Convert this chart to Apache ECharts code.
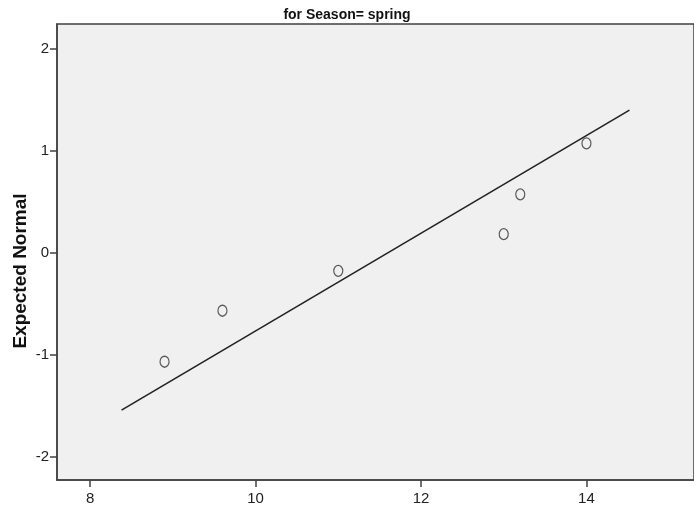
<!DOCTYPE html>
<html>
<head>
<meta charset="utf-8">
<script src="https://cdn.jsdelivr.net/npm/echarts@6/dist/echarts.min.js"></script>
<style>
  html, body { margin: 0; padding: 0; background: #ffffff; }
  #chart { width: 694px; height: 512px; }
</style>
</head>
<body>
<div id="chart"></div>
<script>
// Observed values (x) and their expected normal scores (y)
var observedValues = [8.9, 9.6, 11.0, 13.0, 13.2, 14.0];
var expectedNormal = [-1.07, -0.57, -0.18, 0.18, 0.57, 1.07];

// Reference line end points
var lineX = [8.38, 14.52];
var lineY = [-1.545, 1.396];

// Tick labels
var xTicks = [8, 10, 12, 14];
var yTicks = [-2, -1, 0, 1, 2];

var pointData = observedValues.map(function (v, i) { return [v, expectedNormal[i]]; });
var lineData = lineX.map(function (v, i) { return [v, lineY[i]]; });

var axisColor = '#404040';
var labelFont = { fontFamily: 'Liberation Sans Narrow, Arial Narrow, Liberation Sans, sans-serif', fontSize: 15, color: '#222' };

var chart = echarts.init(document.getElementById('chart'), null, { renderer: 'canvas' });
chart.setOption({
  animation: false,
  backgroundColor: '#ffffff',
  title: {
    text: 'for Season= spring',
    left: 'center',
    top: 3,
    textStyle: {
      fontFamily: 'Liberation Sans Narrow, Arial Narrow, Liberation Sans, sans-serif',
      fontSize: 14,
      fontWeight: 'bold',
      color: '#111'
    }
  },
  graphic: [{
    type: 'text',
    x: 21,
    y: 271,
    rotation: Math.PI / 2,
    style: {
      text: 'Expected Normal',
      font: 'bold 19px "Liberation Sans", Arial, sans-serif',
      fill: '#111',
      align: 'center',
      verticalAlign: 'middle'
    }
  }],
  grid: {
    left: 57,
    right: -2,
    top: 24,
    bottom: 32,
    show: true,
    backgroundColor: '#f0f0f0',
    borderColor: axisColor,
    borderWidth: 1.5
  },
  xAxis: {
    type: 'value',
    min: 7.6,
    max: 15.3,
    splitLine: { show: false },
    axisLine: { show: true, onZero: false, lineStyle: { color: axisColor, width: 1.5 } },
    axisTick: { show: true, customValues: xTicks, length: 7, lineStyle: { color: axisColor, width: 1.5 } },
    axisLabel: Object.assign({ customValues: xTicks, margin: 11 }, labelFont)
  },
  yAxis: {
    type: 'value',
    min: -2.23,
    max: 2.24,
    splitLine: { show: false },
    axisLine: { show: true, onZero: false, lineStyle: { color: axisColor, width: 1.5 } },
    axisTick: { show: true, customValues: yTicks, length: 7, lineStyle: { color: axisColor, width: 1.5 } },
    axisLabel: Object.assign({ customValues: yTicks, margin: 8 }, labelFont)
  },
  series: [
    {
      type: 'line',
      data: lineData,
      symbol: 'none',
      silent: true,
      lineStyle: { color: '#222', width: 1.6 }
    },
    {
      type: 'scatter',
      data: pointData,
      symbol: 'circle',
      symbolSize: [9, 11],
      itemStyle: { color: 'rgba(0,0,0,0)', borderColor: '#333', borderWidth: 1.3 }
    }
  ]
});
</script>
</body>
</html>
